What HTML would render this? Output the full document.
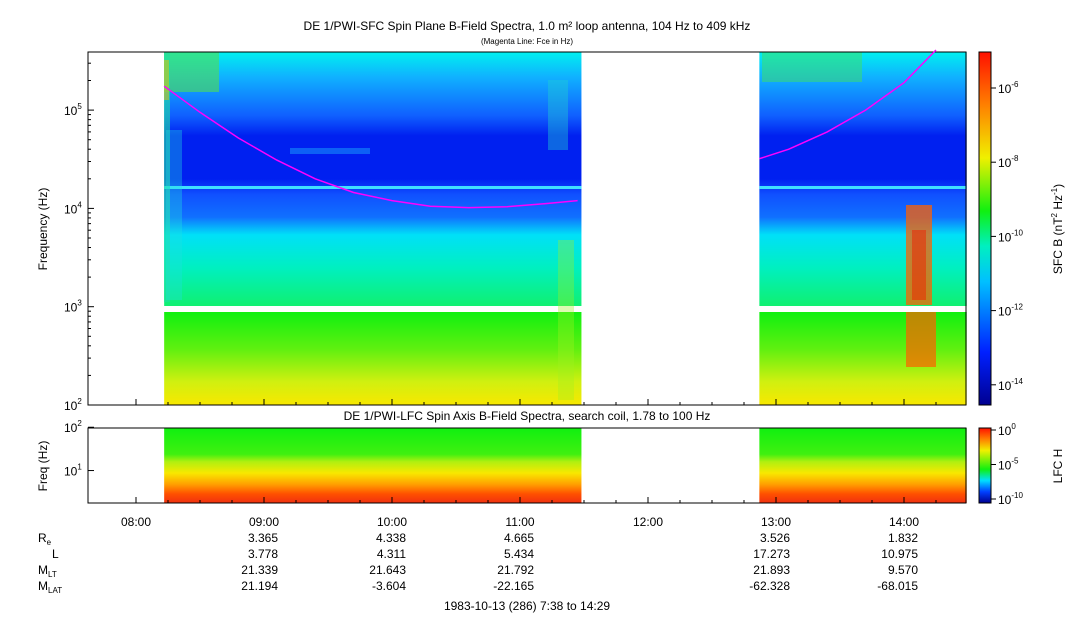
<!DOCTYPE html>
<html><head><meta charset="utf-8"><style>
body{margin:0;background:#fff;}
svg text{font-family:"Liberation Sans",sans-serif;fill:#000;}
</style></head><body>
<svg id="c" width="1083" height="620" xmlns="http://www.w3.org/2000/svg">
<defs>
<linearGradient id="gU" x1="0" y1="0" x2="0" y2="1">
<stop offset="0" stop-color="#00f0f0"/><stop offset="0.1" stop-color="#10b0ff"/>
<stop offset="0.25" stop-color="#1060ff"/><stop offset="0.33" stop-color="#0020f0"/>
<stop offset="0.5" stop-color="#0020f0"/><stop offset="0.56" stop-color="#1050ff"/>
<stop offset="0.65" stop-color="#1070ff"/><stop offset="0.72" stop-color="#00e0f8"/>
<stop offset="0.85" stop-color="#00f0c0"/><stop offset="1" stop-color="#10f070"/>
</linearGradient>
<linearGradient id="gL" x1="0" y1="0" x2="0" y2="1">
<stop offset="0" stop-color="#10f010"/><stop offset="0.4" stop-color="#60f010"/>
<stop offset="0.75" stop-color="#d0f010"/><stop offset="1" stop-color="#f8e800"/>
</linearGradient>
<linearGradient id="gB" x1="0" y1="0" x2="0" y2="1">
<stop offset="0" stop-color="#10f010"/><stop offset="0.35" stop-color="#40f010"/>
<stop offset="0.45" stop-color="#b0f010"/><stop offset="0.6" stop-color="#f8e800"/>
<stop offset="0.75" stop-color="#ffa000"/><stop offset="0.88" stop-color="#ff5000"/><stop offset="1" stop-color="#f03010"/>
</linearGradient>
<linearGradient id="gC" x1="0" y1="1" x2="0" y2="0">
<stop offset="0" stop-color="#000090"/><stop offset="0.15" stop-color="#0020ff"/>
<stop offset="0.35" stop-color="#00c0ff"/><stop offset="0.45" stop-color="#00f0c0"/>
<stop offset="0.55" stop-color="#10f010"/><stop offset="0.7" stop-color="#f0f000"/>
<stop offset="0.85" stop-color="#ff8000"/><stop offset="1" stop-color="#ff1000"/>
</linearGradient>
<linearGradient id="gC2" x1="0" y1="1" x2="0" y2="0">
<stop offset="0" stop-color="#000090"/><stop offset="0.15" stop-color="#0040ff"/>
<stop offset="0.3" stop-color="#00e0ff"/><stop offset="0.45" stop-color="#10f010"/>
<stop offset="0.7" stop-color="#f0f000"/><stop offset="0.85" stop-color="#ff8000"/><stop offset="1" stop-color="#ff1000"/>
</linearGradient>
</defs>
<text x="527" y="30" font-size="12" text-anchor="middle">DE 1/PWI-SFC  Spin Plane B-Field Spectra, 1.0 m² loop antenna, 104 Hz to 409 kHz</text>
<text x="527" y="44" font-size="8" text-anchor="middle">(Magenta Line: Fce in Hz)</text>
<g id="topg"></g>
<g id="botg"></g>
<rect x="88" y="52" width="878" height="353" fill="none" stroke="#000"/>
<rect x="88" y="428" width="878" height="75" fill="none" stroke="#000"/>
<text x="527" y="420" font-size="12" text-anchor="middle">DE 1/PWI-LFC  Spin Axis B-Field Spectra, search coil, 1.78 to 100 Hz</text>
<text transform="translate(47,229) rotate(-90)" font-size="12" text-anchor="middle">Frequency (Hz)</text>
<text transform="translate(47,466) rotate(-90)" font-size="12" text-anchor="middle">Freq (Hz)</text>
<rect x="979" y="52" width="12" height="353" fill="url(#gC)" stroke="#000"/>
<rect x="979" y="428" width="12" height="75" fill="url(#gC2)" stroke="#000"/>
<text transform="translate(1062,229) rotate(-90)" font-size="12" text-anchor="middle">SFC B (nT<tspan font-size="8" dy="-5">2</tspan><tspan dy="5"> Hz</tspan><tspan font-size="8" dy="-5">-1</tspan><tspan dy="5">)</tspan></text>
<text transform="translate(1062,466) rotate(-90)" font-size="12" text-anchor="middle">LFC H</text>
<g id="ann" font-size="12"></g>
<text x="527" y="610" font-size="12" text-anchor="middle">1983-10-13 (286) 7:38 to 14:29</text>
</svg>
<script>
const NS="http://www.w3.org/2000/svg";
const svg=document.getElementById('c');
// data
const segStart=[8.22,12.87];
const segEnd=[11.48,14.49];
const fceHours=[8.22,8.5,8.8,9.1,9.4,9.7,10.0,10.3,10.6,10.9,11.2,11.45,12.87,13.1,13.4,13.7,14.0,14.25];
const fceHz=[175000,95000,52000,31000,20000,14500,12000,10500,10200,10400,11200,12000,32000,40000,60000,100000,190000,409000];
const timeTicks=['08:00','09:00','10:00','11:00','12:00','13:00','14:00'];
const timeTickHours=[8,9,10,11,12,13,14];
const annHours=[9,10,11,13,14];
const Re=['3.365','4.338','4.665','3.526','1.832'];
const Lv=['3.778','4.311','5.434','17.273','10.975'];
const MLT=['21.339','21.643','21.792','21.893','9.570'];
const MLAT=['21.194','-3.604','-22.165','-62.328','-68.015'];
const freqTicks=[2,3,4,5];
const lfcTicks=[1,2];
const cbTicks=[-6,-8,-10,-12,-14];
const cb2Ticks=[0,-5,-10];

const xH=h=>136+(h-8)*128;
const yF=f=>405-(Math.log10(f)-2)*98.3;
const yL=f=>503-(Math.log10(f)-Math.log10(1.78))*43.3;
const yC=e=>88-(e+6)*37.1;
const yC2=e=>430-e*6.9;
function el(t,a,p){const e=document.createElementNS(NS,t);for(const k in a)e.setAttribute(k,a[k]);(p||svg).appendChild(e);return e;}
const topG=document.getElementById('topg'),botG=document.getElementById('botg');
for(let i=0;i<2;i++){
 const x0=xH(segStart[i]),w=xH(segEnd[i])-x0;
 let r=el('rect',{x:x0,y:52,width:w,height:254,fill:'url(#gU)'},topG);
 
 r=el('rect',{x:x0,y:186,width:w,height:3,fill:'#40e0ff'},topG);
 
 r=el('rect',{x:x0,y:312,width:w,height:93,fill:'url(#gL)'},topG);
 
 r=el('rect',{x:x0,y:428,width:w,height:75,fill:'url(#gB)'},botG);
 
}
const feats=[[164,52,55,40,'#50e050',0.6],[164,52,6,250,'#20e0a0',0.6],[164,60,5,40,'#f0c000',0.5],[762,52,100,30,'#40e060',0.5],
[548,80,20,70,'#20d0d0',0.4],[558,240,16,160,'#a0f020',0.35],[560,430,8,73,'#ff4000',0.4],
[906,205,26,100,'#ff6000',0.75],[906,312,30,55,'#ff6000',0.7],[912,230,14,70,'#f02000',0.5],[897,440,8,63,'#ff4000',0.35],
[166,130,16,170,'#20e0e0',0.35],[290,148,80,6,'#20c0ff',0.4]];
feats.forEach(f=>{const r=el('rect',{x:f[0],y:f[1],width:f[2],height:f[3],fill:f[4],opacity:f[5]},topG);
});
[[0,12],[12,18]].forEach(([a,b])=>{let d='';for(let i=a;i<b;i++)d+=(i==a?'M':'L')+xH(fceHours[i]).toFixed(1)+','+yF(fceHz[i]).toFixed(1);
const p=el('path',{d:d,fill:'none',stroke:'#ff00ff','stroke-width':1.5});
});
freqTicks.forEach(e=>{const y=yF(Math.pow(10,e));el('line',{x1:88,x2:94,y1:y,y2:y,stroke:'#000'});
const t=el('text',{x:64,y:y+5,'font-size':12});t.innerHTML='10<tspan font-size="8" dy="-6">'+e+'</tspan>';

for(let m=2;m<10;m++){const yy=yF(m*Math.pow(10,e));if(yy>53)el('line',{x1:88,x2:91,y1:yy,y2:yy,stroke:'#000'});}});
lfcTicks.forEach(e=>{const y=yL(Math.pow(10,e));el('line',{x1:88,x2:94,y1:y,y2:y,stroke:'#000'});
const t=el('text',{x:64,y:y+5,'font-size':12});t.innerHTML='10<tspan font-size="8" dy="-6">'+e+'</tspan>';
});
cbTicks.forEach(e=>{const y=yC(e);el('line',{x1:991,x2:996,y1:y,y2:y,stroke:'#000'});
const t=el('text',{x:998,y:y+5,'font-size':12});t.innerHTML='10<tspan font-size="8" dy="-6">'+e+'</tspan>';
});
cb2Ticks.forEach(e=>{const y=yC2(e);el('line',{x1:991,x2:996,y1:y,y2:y,stroke:'#000'});
const t=el('text',{x:998,y:y+5,'font-size':12});t.innerHTML='10<tspan font-size="8" dy="-6">'+e+'</tspan>';
});
timeTickHours.forEach((h,i)=>{const xx=xH(h);el('line',{x1:xx,x2:xx,y1:503,y2:497,stroke:'#000'});el('line',{x1:xx,x2:xx,y1:405,y2:399,stroke:'#000'});
const t=el('text',{x:xx,y:526,'font-size':12,'text-anchor':'middle'});t.textContent=timeTicks[i];

for(let q=1;q<4;q++){const xq=xH(h+q/4);if(xq<966){el('line',{x1:xq,x2:xq,y1:503,y2:500,stroke:'#000'});el('line',{x1:xq,x2:xq,y1:405,y2:402,stroke:'#000'});}}});
const ann=document.getElementById('ann');
const rows=[[Re,542,'R','e'],[Lv,558,'L',''],[MLT,574,'M','LT'],[MLAT,590,'M','LAT']];
rows.forEach(r=>{const lab=el('text',{x:r[2]=='L'?52:38,y:r[1],'font-size':12},ann);lab.innerHTML=r[2]+'<tspan font-size="8" dy="3">'+r[3]+'</tspan>';

annHours.forEach((h,i)=>{const t=el('text',{x:xH(h)+14,y:r[1],'font-size':12,'text-anchor':'end'},ann);t.textContent=r[0][i];
});});
</script>
</body></html>
